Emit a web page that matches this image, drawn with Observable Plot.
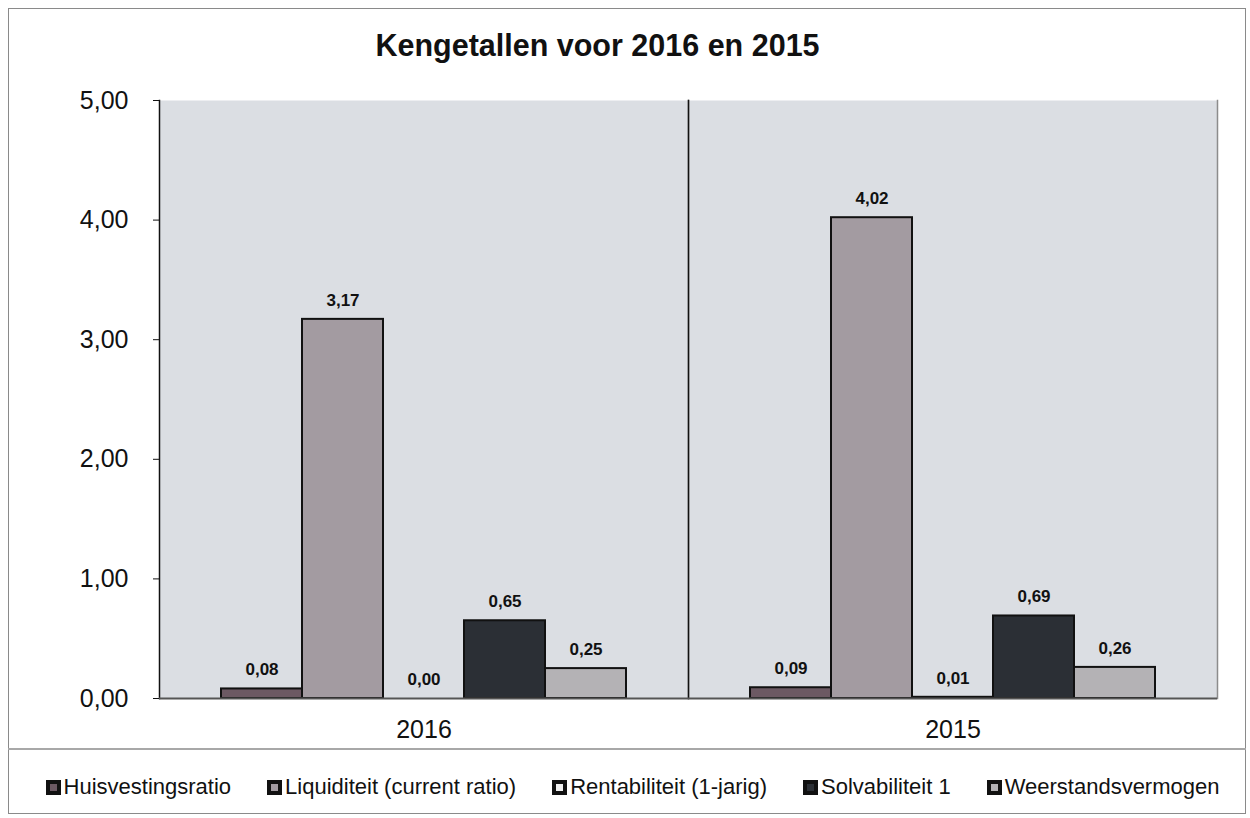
<!DOCTYPE html>
<html>
<head>
<meta charset="utf-8">
<script src="https://cdn.jsdelivr.net/npm/d3@7"></script>
<script src="https://cdn.jsdelivr.net/npm/@observablehq/plot@0.6"></script>
<style>
  html, body { margin: 0; padding: 0; background: #fff; }
  body { width: 1250px; height: 818px; position: relative; overflow: hidden; font-family: "Liberation Sans", Arial, sans-serif; }
  #border { position: absolute; left: 8px; top: 8px; width: 1238px; height: 806px; border: 1.5px solid #8a8a8a; box-sizing: border-box; }
  #title { position: absolute; left: 0; width: 1195px; top: 28px; text-align: center; font-weight: bold; font-size: 30.5px; color: #111; }
  #chart { position: absolute; left: 0; top: 80px; }
  #sep { position: absolute; left: 8px; width: 1238px; top: 748px; height: 0; border-top: 2px solid #a8a8a8; }
  #legend { position: absolute; left: 0; width: 1265px; top: 774px; display: flex; justify-content: center; gap: 36px; font-size: 22px; color: #111; }
  .item { display: flex; align-items: center; white-space: nowrap; }
  .sw { width: 7px; height: 7px; border: 4px solid #111; margin-right: 3px; box-sizing: content-box; }
</style>
</head>
<body>
<div id="border"></div>
<div id="title">Kengetallen voor 2016 en 2015</div>
<div id="chart"></div>
<div id="sep"></div>
<div id="legend"></div>
<script>
const years = ["2016", "2015"];
const series = ["Huisvestingsratio", "Liquiditeit (current ratio)", "Rentabiliteit (1-jarig)", "Solvabiliteit 1", "Weerstandsvermogen"];
const values2016 = [0.08, 3.17, 0.00, 0.65, 0.25];
const values2015 = [0.09, 4.02, 0.01, 0.69, 0.26];
const colors = ["#6c5963", "#a39ba1", "#f0f0f0", "#2b2f35", "#b4b2b5"];
const yTicks = [0, 1, 2, 3, 4, 5];

const valuesByYear = {"2016": values2016, "2015": values2015};
const rows = years.flatMap(yr => series.map((s, j) => ({year: yr, series: s, value: valuesByYear[yr][j]})));
const fmt = v => v.toFixed(2).replace(".", ",");

const plot = Plot.plot({
  width: 1250,
  height: 670,
  marginTop: 20,
  marginBottom: 52,
  marginLeft: 158,
  marginRight: 33,
  style: {fontFamily: "Liberation Sans, Arial, sans-serif", color: "#111", background: "transparent"},
  fx: {domain: years, padding: 0, label: null, axis: null},
  x: {domain: series, paddingInner: 0, paddingOuter: 0.73, axis: null},
  y: {domain: [0, 5], axis: null},
  color: {domain: series, range: colors},
  marks: [
    Plot.frame({fill: "#dbdee3", stroke: null}),
    Plot.frame({anchor: "right", stroke: "#8c8c8c", strokeWidth: 1.5}),
    Plot.frame({anchor: "left", stroke: "#111", strokeWidth: 1.5}),
    Plot.axisY({ticks: yTicks, tickFormat: fmt, fontSize: 25, tickSize: 6, tickPadding: 25, stroke: "#111", label: null}),
    Plot.axisFx({domain: years, anchor: "bottom", fontSize: 25, tickSize: 0, tickPadding: 22, label: null}),
    Plot.barY(rows, {fx: "year", x: "series", y: "value", fill: "series", stroke: "#111", strokeWidth: 2}),
    Plot.ruleY([0], {stroke: "#555", strokeWidth: 2}),
    Plot.text(rows, {fx: "year", x: "series", y: "value", text: d => fmt(d.value), dy: -19, fontSize: 17, fontWeight: "bold", fill: "#111"})
  ]
});
document.getElementById("chart").appendChild(plot);

const legend = document.getElementById("legend");
series.forEach((s, i) => {
  const item = document.createElement("div");
  item.className = "item";
  const sw = document.createElement("span");
  sw.className = "sw";
  sw.style.background = colors[i];
  item.appendChild(sw);
  item.appendChild(document.createTextNode(s));
  legend.appendChild(item);
});
</script>
</body>
</html>
